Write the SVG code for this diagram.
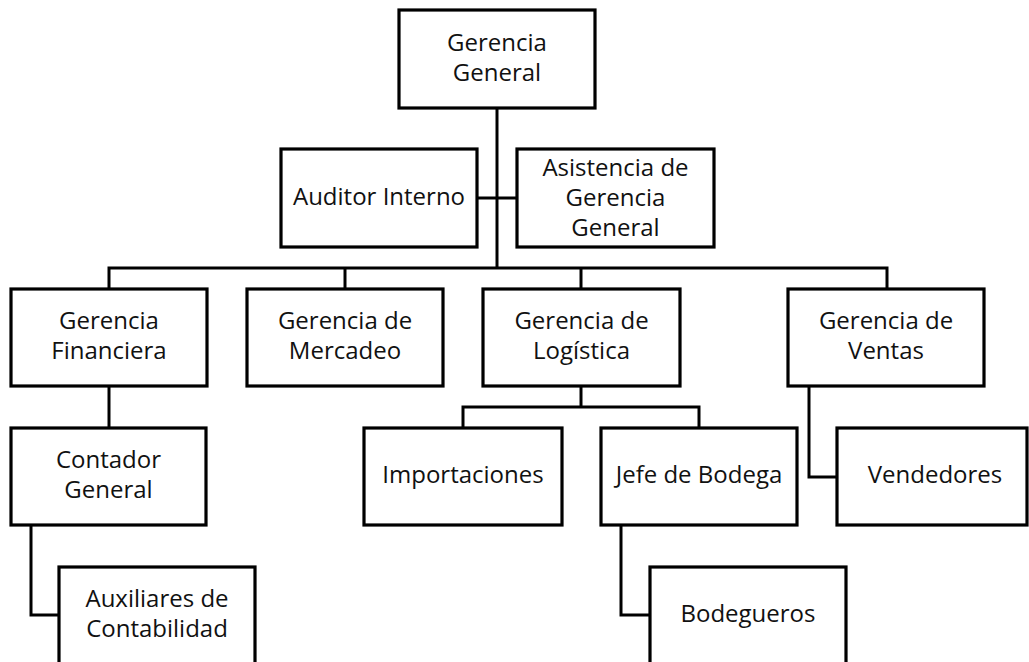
<svg xmlns="http://www.w3.org/2000/svg" width="1029" height="662" viewBox="0 0 1029 662">
<style>
.box{fill:#fff;stroke:#000;stroke-width:3.2}
.ln{fill:none;stroke:#000;stroke-width:3;stroke-linejoin:miter}
text{font-family:"Open Sans","Liberation Sans",sans-serif;font-size:24px;fill:#111;text-anchor:middle}
</style>
<rect width="1029" height="662" fill="#fff"/>
<g id="connectors">
<path class="ln" d="M497,108 V268"/>
<path class="ln" d="M477,198 H517"/>
<path class="ln" d="M109,289 V268 H887 V289"/>
<path class="ln" d="M345,268 V289"/>
<path class="ln" d="M581,268 V289"/>
<path class="ln" d="M109,386 V428"/>
<path class="ln" d="M581,386 V407"/>
<path class="ln" d="M463,428 V407 H699 V428"/>
<path class="ln" d="M809,386 V477 H837"/>
<path class="ln" d="M31,525 V615 H59"/>
<path class="ln" d="M621,525 V615 H650"/>
</g>
<g id="gerencia-general"><rect class="box" x="399" y="10" width="196" height="98"/><text x="497" y="51">Gerencia</text><text x="497" y="81">General</text></g>
<g id="auditor-interno"><rect class="box" x="281" y="149" width="196" height="98"/><text x="379" y="205">Auditor Interno</text></g>
<g id="asistencia"><rect class="box" x="517" y="149" width="197" height="98"/><text x="615.5" y="176">Asistencia de</text><text x="615.5" y="206">Gerencia</text><text x="615.5" y="236">General</text></g>
<g id="gerencia-financiera"><rect class="box" x="11" y="289" width="196" height="97"/><text x="109" y="329">Gerencia</text><text x="109" y="359">Financiera</text></g>
<g id="gerencia-mercadeo"><rect class="box" x="247" y="289" width="196" height="97"/><text x="345" y="329">Gerencia de</text><text x="345" y="359">Mercadeo</text></g>
<g id="gerencia-logistica"><rect class="box" x="483" y="289" width="197" height="97"/><text x="581.5" y="329">Gerencia de</text><text x="581.5" y="359">Logística</text></g>
<g id="gerencia-ventas"><rect class="box" x="788" y="289" width="196" height="97"/><text x="886" y="329">Gerencia de</text><text x="886" y="359">Ventas</text></g>
<g id="contador-general"><rect class="box" x="11" y="428" width="195" height="97"/><text x="108.5" y="468">Contador</text><text x="108.5" y="498">General</text></g>
<g id="importaciones"><rect class="box" x="364" y="428" width="198" height="97"/><text x="463" y="483">Importaciones</text></g>
<g id="jefe-bodega"><rect class="box" x="601" y="428" width="196" height="97"/><text x="699" y="483">Jefe de Bodega</text></g>
<g id="vendedores"><rect class="box" x="837" y="428" width="190" height="97"/><text x="935" y="483">Vendedores</text></g>
<g id="auxiliares"><rect class="box" x="59" y="567" width="196" height="100"/><text x="157" y="607">Auxiliares de</text><text x="157" y="637">Contabilidad</text></g>
<g id="bodegueros"><rect class="box" x="650" y="567" width="196" height="100"/><text x="748" y="622">Bodegueros</text></g>
</svg>
